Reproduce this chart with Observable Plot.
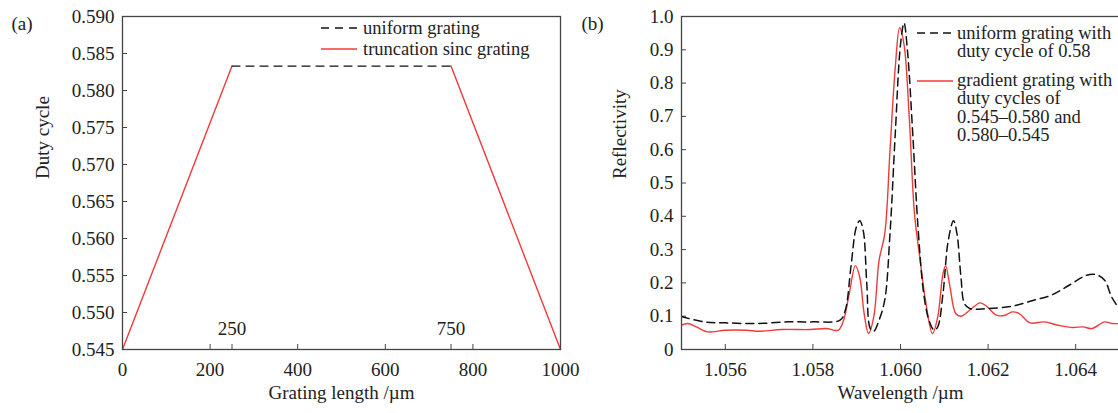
<!DOCTYPE html>
<html><head><meta charset="utf-8">
<script src="https://cdn.jsdelivr.net/npm/d3@7"></script>
<script src="https://cdn.jsdelivr.net/npm/@observablehq/plot@0.6"></script>
<style>
body{margin:0;background:#fff;overflow:hidden;}
#wrap{position:relative;width:1118px;height:413px;overflow:hidden;font-family:"Liberation Serif",serif;color:#222;}
.panel{position:absolute;top:0;}
.lg{position:absolute;font-size:18.5px;line-height:18.6px;white-space:nowrap;color:#222;}
.sw{position:absolute;}
</style></head><body><div id="wrap"></div>
<script>
// ---- Panel (a) data ----
const taperLength = [0, 250, 750, 1000];
const taperDuty = [0.545, 0.5833, 0.5833, 0.545];
const taperSeg = ["rise", "rise", "fall", "fall"];
const uniformLength = [250, 750];
const uniformDuty = [0.5833, 0.5833];
const xTicksA = [0, 200, 400, 600, 800, 1000];
const xMarksA = [250, 750];
const yTicksA = [0.545, 0.550, 0.555, 0.560, 0.565, 0.570, 0.575, 0.580, 0.585, 0.590];

// ---- Panel (b) data ----
const uniformWl = [1.055,1.05551,1.056,1.05672,1.05745,1.05802,1.05862,1.05874,1.05887,1.05899,1.05907,1.05915,1.05923,1.05931,1.05939,1.05951,1.05964,1.05976,1.05988,1.06,1.06008,1.06016,1.06028,1.0604,1.06053,1.06065,1.06077,1.06085,1.06097,1.06109,1.06121,1.06129,1.06138,1.06146,1.06158,1.06198,1.06255,1.06304,1.06344,1.06385,1.06425,1.06446,1.06466,1.06482,1.065];
const uniformR = [0.099,0.083,0.08,0.078,0.083,0.083,0.088,0.118,0.25,0.367,0.387,0.357,0.198,0.063,0.055,0.088,0.148,0.347,0.647,0.916,0.981,0.896,0.647,0.367,0.168,0.088,0.058,0.068,0.168,0.327,0.387,0.347,0.218,0.138,0.123,0.123,0.13,0.148,0.163,0.193,0.223,0.225,0.208,0.158,0.12];
const gradientWl = [1.055,1.05514,1.05534,1.05559,1.056,1.05648,1.0568,1.05729,1.05794,1.0583,1.05858,1.0587,1.05883,1.05897,1.05907,1.05917,1.05927,1.05939,1.05951,1.05964,1.05976,1.05988,1.05998,1.06008,1.0602,1.06032,1.06045,1.06057,1.06073,1.06085,1.06097,1.06103,1.06113,1.06126,1.06138,1.06158,1.06182,1.06198,1.06219,1.06239,1.06255,1.06271,1.06296,1.06328,1.0636,1.06393,1.06417,1.06437,1.06466,1.06482,1.065];
const gradientR = [0.073,0.078,0.068,0.053,0.058,0.058,0.055,0.06,0.06,0.063,0.058,0.088,0.168,0.252,0.217,0.108,0.048,0.098,0.267,0.347,0.597,0.846,0.966,0.916,0.697,0.407,0.267,0.148,0.048,0.098,0.228,0.252,0.188,0.108,0.1,0.118,0.14,0.128,0.103,0.103,0.113,0.108,0.08,0.083,0.073,0.066,0.068,0.063,0.083,0.078,0.078];
const xTicksB = [1.056, 1.058, 1.060, 1.062, 1.064];
const yTicksB = [0, 0.1, 0.2, 0.3, 0.4, 0.5, 0.6, 0.7, 0.8, 0.9, 1.0];

const RED = "#f03a3a";
const DARK = "#111";
const FONT = {fontFamily: "'Liberation Serif', serif", fontSize: "19px", color: "#222", background: "transparent", overflow: "visible"};

const taperRows = taperLength.map((x, i) => ({x, y: taperDuty[i], seg: taperSeg[i]}));
const uniformRowsA = uniformLength.map((x, i) => ({x, y: uniformDuty[i]}));
const uniformRowsB = uniformWl.map((x, i) => ({x, y: uniformR[i]}));
const gradientRowsB = gradientWl.map((x, i) => ({x, y: gradientR[i]}));

const plotA = Plot.plot({
  width: 580, height: 413, marginLeft: 122, marginRight: 20, marginTop: 16, marginBottom: 64,
  style: FONT,
  x: {domain: [0, 1000]},
  y: {domain: [0.545, 0.590]},
  marks: [
    Plot.axisX(xTicksA, {tickSize: -5, tickPadding: 18, tickFormat: d => String(d), label: null, stroke: "#444"}),
    Plot.axisX(xMarksA, {tickSize: -5, tickFormat: () => "", label: null, stroke: "#444"}),
    Plot.axisY(yTicksA, {tickSize: -5, tickPadding: 13, tickFormat: d3.format(".3f"), label: null, stroke: "#444"}),
    Plot.text(xMarksA, {x: d => d, frameAnchor: "bottom", dy: -15, text: d => String(d), fill: "#222"}),
    Plot.line(taperRows, {x: "x", y: "y", z: "seg", stroke: RED, strokeWidth: 1.4}),
    Plot.line(uniformRowsA, {x: "x", y: "y", stroke: DARK, strokeWidth: 1.3, strokeDasharray: "8,6"}),
    Plot.frame({stroke: "#444", strokeWidth: 1.3}),
    Plot.text(["Grating length /\u00b5m"], {frameAnchor: "bottom", dy: 49, text: d => d, fill: "#222"}),
    Plot.text(["Duty cycle"], {frameAnchor: "left", dx: -80, dy: -4, rotate: -90, text: d => d, fill: "#222"}),
    Plot.text(["(a)"], {frameAnchor: "top-left", dx: -111, textAnchor: "start", text: d => d, fill: "#222"})
  ]
});

const plotB = Plot.plot({
  width: 560, height: 413, marginLeft: 121, marginRight: 1, marginTop: 16, marginBottom: 64,
  style: FONT,
  x: {domain: [1.055, 1.065]},
  y: {domain: [0, 1.0]},
  marks: [
    Plot.axisX(xTicksB, {tickSize: -5, tickPadding: 18, tickFormat: d3.format(".3f"), label: null, stroke: "#444"}),
    Plot.axisY(yTicksB, {tickSize: -5, tickPadding: 13, tickFormat: d => d === 0 ? "0" : d.toFixed(1), label: null, stroke: "#444"}),
    Plot.line(gradientRowsB, {x: "x", y: "y", stroke: RED, strokeWidth: 1.4, curve: "catmull-rom", clip: true}),
    Plot.line(uniformRowsB, {x: "x", y: "y", stroke: DARK, strokeWidth: 1.5, strokeDasharray: "8,5", curve: "catmull-rom", clip: true}),
    Plot.frame({stroke: "#444", strokeWidth: 1.3}),
    Plot.text(["Wavelength /\u00b5m"], {frameAnchor: "bottom", dy: 49, text: d => d, fill: "#222"}),
    Plot.text(["Reflectivity"], {frameAnchor: "left", dx: -62, dy: -4, rotate: -90, text: d => d, fill: "#222"}),
    Plot.text(["(b)"], {frameAnchor: "top-left", dx: -100, textAnchor: "start", text: d => d, fill: "#222"})
  ]
});

const wrap = document.getElementById("wrap");
plotA.classList.add("panel"); plotA.style.left = "0px";
plotB.classList.add("panel"); plotB.style.left = "560px";
wrap.appendChild(plotA);
wrap.appendChild(plotB);

// Legends (HTML overlays)
function swatch(x, y, color, dash, w) {
  const ns = "http://www.w3.org/2000/svg";
  const s = document.createElementNS(ns, "svg");
  s.setAttribute("width", 36); s.setAttribute("height", 6);
  s.setAttribute("class", "sw");
  s.style.left = x + "px"; s.style.top = (y - 3) + "px";
  const l = document.createElementNS(ns, "line");
  l.setAttribute("x1", 0); l.setAttribute("x2", 36); l.setAttribute("y1", 3); l.setAttribute("y2", 3);
  l.setAttribute("stroke", color); l.setAttribute("stroke-width", w);
  if (dash) l.setAttribute("stroke-dasharray", dash);
  s.appendChild(l);
  wrap.appendChild(s);
}
function label(x, y, lines) {
  const d = document.createElement("div");
  d.className = "lg";
  d.style.left = x + "px"; d.style.top = (y - 9.3) + "px";
  d.innerHTML = lines.join("<br>");
  wrap.appendChild(d);
}
const legendA = ["uniform grating", "truncation sinc grating"];
swatch(321, 28, DARK, "8,6", 1.3); label(363, 28, [legendA[0]]);
swatch(321, 49, RED, null, 1.4); label(363, 49, [legendA[1]]);

const legendB1 = ["uniform grating with", "duty cycle of 0.58"];
const legendB2 = ["gradient grating with", "duty cycles of", "0.545\u20130.580 and", "0.580\u20130.545"];
swatch(917, 33, DARK, "8,5", 1.5); label(957, 33, legendB1);
swatch(917, 81, RED, null, 1.4); label(957, 80, legendB2);
</script></body></html>
